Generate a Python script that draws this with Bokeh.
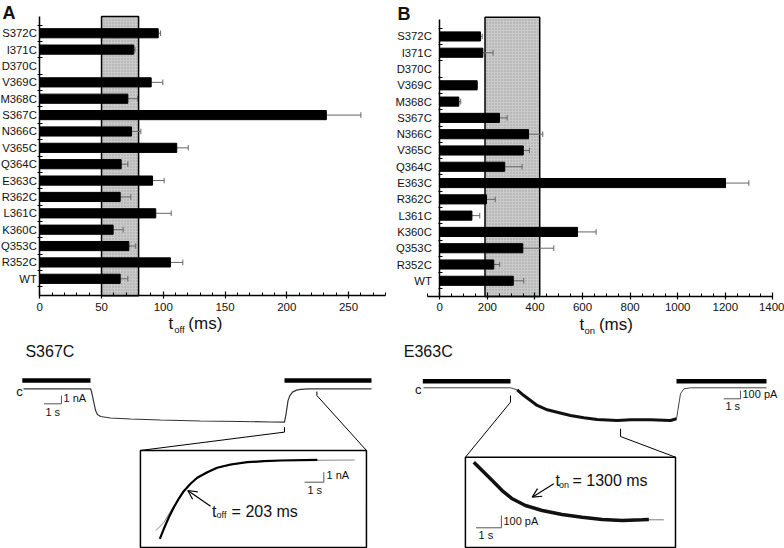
from bokeh.plotting import figure
from bokeh.models import (Range1d, FixedTicker, ColumnDataSource, LabelSet, Label,
                          Arrow, OpenHead)
from bokeh.layouts import column, row
from bokeh.core.properties import value
from bokeh.embed import file_html
from bokeh.resources import INLINE

FONT = "Liberation Sans"

# ---------------- data ----------------
mutants = ["WT", "R352C", "Q353C", "K360C", "L361C", "R362C", "E363C", "Q364C",
           "V365C", "N366C", "S367C", "M368C", "V369C", "D370C", "I371C", "S372C"]
t_off = [65.1, 105.8, 72.1, 59.4, 93.9, 65.1, 91.3, 65.9, 110.9, 74.3, 232.0,
         71.3, 90.2, None, 76.1, 95.9]
t_off_err = [6.2, 10.0, 5.6, 8.1, 12.5, 8.6, 9.4, 5.4, 9.3, 7.5, 28.0, 7.8, 9.4,
             None, 1.0, 1.9]
t_on = [309, 227, 349, 579, 135, 196, 1201, 273, 351, 373, 251, 80, 157, None,
        181, 171]
t_on_err = [44, 25, 130, 78, 33, 37, 98, 73, 26, 60, 32, 8, 0, None, 43, 7]
wt_off_band = [50, 80]
wt_on_band = [190, 420]
off_ticks = [0, 50, 100, 150, 200, 250]
on_ticks = [0, 200, 400, 600, 800, 1000, 1200, 1400]

# S367C trace (s, nA)
s367_t = [0, 3.85, 3.91, 4.02, 4.14, 4.25, 4.43, 5.0, 6.15, 7.87, 10.17, 12.47,
          14.2, 15.0, 15.1, 15.2, 15.3, 15.46, 15.69, 15.92, 16.4, 20.0]
s367_i = [0, 0, -0.33, -1.41, -2.61, -3.10, -3.34, -3.52, -3.64, -3.76, -3.88,
          -3.94, -4.0, -4.02, -2.9, -1.45, -0.85, -0.4, -0.16, -0.06, 0, 0]
s367_app = [[-0.07, 3.85], [15.0, 20.0]]
# S367C inset (s, nA)
s367_in_t = [0, 0.21, 0.47, 0.73, 0.98, 1.24, 1.59, 1.94, 2.46, 2.97, 3.66,
             4.53, 5.39, 6.25, 8.16]
s367_in_i = [-7.83, -6.83, -5.67, -4.67, -3.83, -3.07, -2.33, -1.73, -1.17,
             -0.73, -0.4, -0.17, -0.07, 0, 0.07]
s367_fit_t = [-0.2, 0.21, 0.47, 0.73, 0.98, 1.24, 1.94, 2.97, 4.53, 6.25, 10.1]
s367_fit_i = [-7.0, -6.2, -5.35, -4.55, -3.8, -3.07, -1.73, -0.73, -0.17, 0, 0.05]

# E363C trace (s, pA)
e363_t = [0, 5.21, 5.61, 6.01, 6.41, 6.81, 7.41, 8.01, 8.8, 9.6, 10.4, 11.6,
          12.4, 13.59, 14.79, 15.15, 15.23, 15.39, 15.59, 15.99, 20.54]
e363_i = [0, 0, -24, -93, -153, -213, -265, -294, -334, -361, -382, -394, -386,
          -386, -394, -373, -273, -72, -12, 0, 0]
e363_app = [[-0.04, 5.21], [15.15, 20.54]]
# E363C inset (s, pA)
e363_in_t = [0, 0.33, 0.73, 1.12, 1.52, 2.04, 2.70, 3.49, 4.28, 5.08, 5.87,
             6.66, 6.92]
e363_in_i = [468, 401, 320, 238, 171, 116, 76, 43, 21, 2, -6, 0, 2]
e363_fit_t = [6.5, 7.51]
e363_fit_i = [0, 0]


def bar_panel(vals, errs, band, xr, yr, axis_y, ytop, band_top, xbounds, ticks,
              minors, lab_off, tick_in, tick_out):
    p = figure(width=392, height=340, x_range=Range1d(*xr), y_range=Range1d(*yr),
               output_backend="svg", toolbar_location=None, title=None,
               min_border=0)
    p.outline_line_color = None
    p.xgrid.visible = False
    p.ygrid.visible = False

    p.quad(left=[band[0]], right=[band[1]], bottom=[axis_y], top=[band_top],
           fill_color="#cacaca", line_color="black", line_width=1.5,
           hatch_pattern="dot", hatch_color="#a0a0a0", hatch_scale=3,
           hatch_weight=0.6)

    ys, vs, es = [], [], []
    for i, (v, e) in enumerate(zip(vals, errs)):
        if v is None:
            continue
        ys.append(i)
        vs.append(v)
        es.append(e)
    src = ColumnDataSource(dict(y=ys, v=vs, hi=[v + e for v, e in zip(vs, es)],
                                lo=[y - 0.17 for y in ys], up=[y + 0.17 for y in ys]))
    p.segment(x0="v", x1="hi", y0="y", y1="y", source=src, line_color="#666666",
              line_width=1)
    p.segment(x0="hi", x1="hi", y0="lo", y1="up", source=src,
              line_color="#666666", line_width=1)
    p.hbar(y="y", left=0, right="v", height=0.56, source=src, fill_color="black",
           line_color="black")

    lab = ColumnDataSource(dict(x=[0] * len(mutants), y=list(range(len(mutants))),
                                t=mutants))
    p.add_layout(LabelSet(x="x", y="y", text="t", source=lab, x_offset=lab_off,
                          text_align="right", text_baseline="middle",
                          text_font=value(FONT), text_font_size="11.3px",
                          text_color="#111111"))

    ya = p.yaxis[0]
    yt = [k - 0.5 for k in range(len(mutants) + 1)]
    ya.ticker = FixedTicker(ticks=yt, minor_ticks=[])
    ya.major_label_overrides = {t: "" for t in yt}
    ya.major_tick_in = tick_in
    ya.major_tick_out = tick_out
    ya.minor_tick_in = 0
    ya.minor_tick_out = 0
    ya.axis_line_width = 1.5
    ya.major_tick_line_width = 1.2
    ya.bounds = (axis_y, ytop)
    ya.fixed_location = 0

    xa = p.xaxis[0]
    xa.ticker = FixedTicker(ticks=ticks, minor_ticks=minors)
    xa.major_tick_in = 4
    xa.major_tick_out = 3
    xa.minor_tick_in = 3
    xa.minor_tick_out = 0
    xa.axis_line_width = 1.5
    xa.major_tick_line_width = 1.2
    xa.minor_tick_line_width = 1
    xa.major_label_standoff = 4
    xa.major_label_text_font = FONT
    xa.major_label_text_font_size = "11.5px"
    xa.major_label_text_color = "#111111"
    xa.bounds = xbounds
    xa.fixed_location = axis_y
    return p


def lbl(p, x, y, s, size, style="normal", baseline="middle", align="left"):
    p.add_layout(Label(x=x, y=y, text=s, text_font=FONT, text_font_size=size,
                       text_font_style=style, text_baseline=baseline,
                       text_align=align, text_color="#111111"))


# ---------------- panel A ----------------
pA = bar_panel(t_off, t_off_err, wt_off_band, (-31.82, 285.59), (-3.769, 17.0),
               -1.04, 16.02, 16.02, (0, 280), off_ticks, list(range(0, 281, 10)),
               -3, 3, 2)
lbl(pA, -30.2, 16.82, "A", "18px", "bold", "top")
lbl(pA, 104.2, -2.73, "t", "17px")
lbl(pA, 108.9, -3.12, "off", "9.5px")
lbl(pA, 120.3, -2.73, "(ms)", "17px")

# ---------------- panel B ----------------
pB = bar_panel(t_on, t_on_err, wt_on_band, (-198.8, 1448.9), (-3.665, 17.207),
               -0.96, 16.04, 16.18, (-50, 1400), on_ticks,
               list(range(-50, 1401, 50)), -8, 3, 1)
lbl(pB, -177.8, 17.02, "B", "18px", "bold", "top")
lbl(pB, 587, -2.68, "t", "17px")
lbl(pB, 608, -3.06, "on", "9.5px")
lbl(pB, 669, -2.68, "(ms)", "17px")


def trace_panel(xr, yr, ixr, iyr):
    p = figure(width=392, height=208, x_range=Range1d(*xr), y_range=Range1d(*yr),
               output_backend="svg", toolbar_location=None, title=None,
               x_axis_location=None, y_axis_location=None, min_border=0)
    p.outline_line_color = None
    p.xgrid.visible = False
    p.ygrid.visible = False
    p.extra_x_ranges = {"inset": Range1d(*ixr)}
    p.extra_y_ranges = {"inset": Range1d(*iyr)}
    return p


def txt(p, x, y, s, size="12px", align="left", inset=False):
    kw = dict(x_range_name="inset", y_range_name="inset") if inset else {}
    p.add_layout(Label(x=x, y=y, text=s, text_font=FONT, text_font_size=size,
                       text_align=align, text_baseline="middle",
                       text_color="#111111", **kw))


IN = dict(x_range_name="inset", y_range_name="inset")

# ---------------- panel C (S367C) ----------------
pC = trace_panel((-1.322, 21.207), (-19.241, 5.819), (-8.254, 12.057), (-8.8, 12.0))
pC.segment(x0=[a[0] for a in s367_app], x1=[a[1] for a in s367_app],
           y0=[1.0, 1.0], y1=[1.0, 1.0], line_color="black", line_width=4.5)
pC.line(s367_t, s367_i, line_color="#333333", line_width=1.2)
pC.segment(x0=[15.0, 15.0, 16.86, 16.86], y0=[-4.62, -5.22, -0.33, -0.81],
           x1=[15.0, 6.72, 16.86, 19.71], y1=[-5.22, -7.43, -0.81, -7.43],
           line_color="black", line_width=1)
pC.quad(left=[6.72], right=[19.71], top=[-7.43], bottom=[-19.12],
        fill_color=None, line_color="black", line_width=1.5)
pC.segment(x0=[2.18, 1.18], x1=[2.18, 2.18], y0=[-0.81, -1.81],
           y1=[-1.81, -1.81], line_color="#555555", line_width=1)
txt(pC, 0.11, 4.49, "S367C", "16px")
txt(pC, -0.05, -0.33, "c", "13px", "right")
txt(pC, 2.30, -1.05, "1 nA", "11px")
txt(pC, 1.26, -2.82, "1 s", "11px")
pC.line(s367_fit_t, s367_fit_i, line_color="#888888", line_width=1, **IN)
pC.line(s367_in_t, s367_in_i, line_color="black", line_width=2.2, **IN)
pC.segment(x0=[8.5, 7.5], x1=[8.5, 8.5], y0=[-1.17, -2.17], y1=[-2.17, -2.17],
           line_color="#555555", line_width=1, **IN)
txt(pC, 8.64, -1.4, "1 nA", "11px", inset=True)
txt(pC, 7.65, -2.9, "1 s", "11px", inset=True)
txt(pC, 2.71, -5.1, "t", "16px", inset=True)
txt(pC, 2.94, -5.45, "off", "9px", inset=True)
txt(pC, 3.72, -5.1, "= 203 ms", "16px", inset=True)
pC.add_layout(Arrow(end=OpenHead(size=9, line_width=1.2), x_start=2.63,
                    y_start=-4.57, x_end=1.45, y_end=-3.0, line_width=1.2, **IN))

# ---------------- panel D (E363C) ----------------
pD = trace_panel((-1.856, 21.617), (-1936.1, 569.9), (-3.213, 12.281),
                 (-233.3, 1457.7))
pD.segment(x0=[a[0] for a in e363_app], x1=[a[1] for a in e363_app],
           y0=[80, 80], y1=[80, 80], line_color="black", line_width=4.5)
pD.line(e363_t, e363_i, line_color="#444444", line_width=1)
pD.line(e363_t[2:16], e363_i[2:16], line_color="#111111", line_width=3)
pD.segment(x0=[5.21, 5.21, 11.8, 11.8], y0=[-93, -173, -494, -587],
           x1=[5.21, 2.51, 11.8, 15.09], y1=[-173, -836, -587, -836],
           line_color="black", line_width=1)
pD.quad(left=[2.51], right=[15.09], top=[-836], bottom=[-1924],
        fill_color=None, line_color="black", line_width=1.5)
pD.segment(x0=[18.98, 17.98], x1=[18.98, 18.98], y0=[-32.5, -132.5],
           y1=[-132.5, -132.5], line_color="#555555", line_width=1)
txt(pD, -1.18, 437, "E363C", "16px")
txt(pD, -0.12, -20, "c", "13px", "right")
txt(pD, 19.1, -69, "100 pA", "11px")
txt(pD, 18.08, -225, "1 s", "11px")
pD.line(e363_fit_t, e363_fit_i, line_color="#777777", line_width=1, **IN)
pD.line(e363_in_t, e363_in_i, line_color="#111111", line_width=3.5, **IN)
pD.segment(x0=[1.09, 0.09], x1=[1.09, 1.09], y0=[35, -65], y1=[-65, -65],
           line_color="#555555", line_width=1, **IN)
txt(pD, 1.17, -6, "100 pA", "11px", inset=True)
txt(pD, 0.19, -120, "1 s", "11px", inset=True)
txt(pD, 3.23, 320, "t", "16px", inset=True)
txt(pD, 3.37, 285, "on", "9px", inset=True)
txt(pD, 3.90, 320, "= 1300 ms", "16px", inset=True)
pD.add_layout(Arrow(end=OpenHead(size=9, line_width=1.2), x_start=3.16,
                    y_start=293, x_end=2.31, y_end=184, line_width=1.2, **IN))

layout = column(row(pA, pB, spacing=0), row(pC, pD, spacing=0), spacing=0)
open("out.html", "w").write(file_html(layout, INLINE))
